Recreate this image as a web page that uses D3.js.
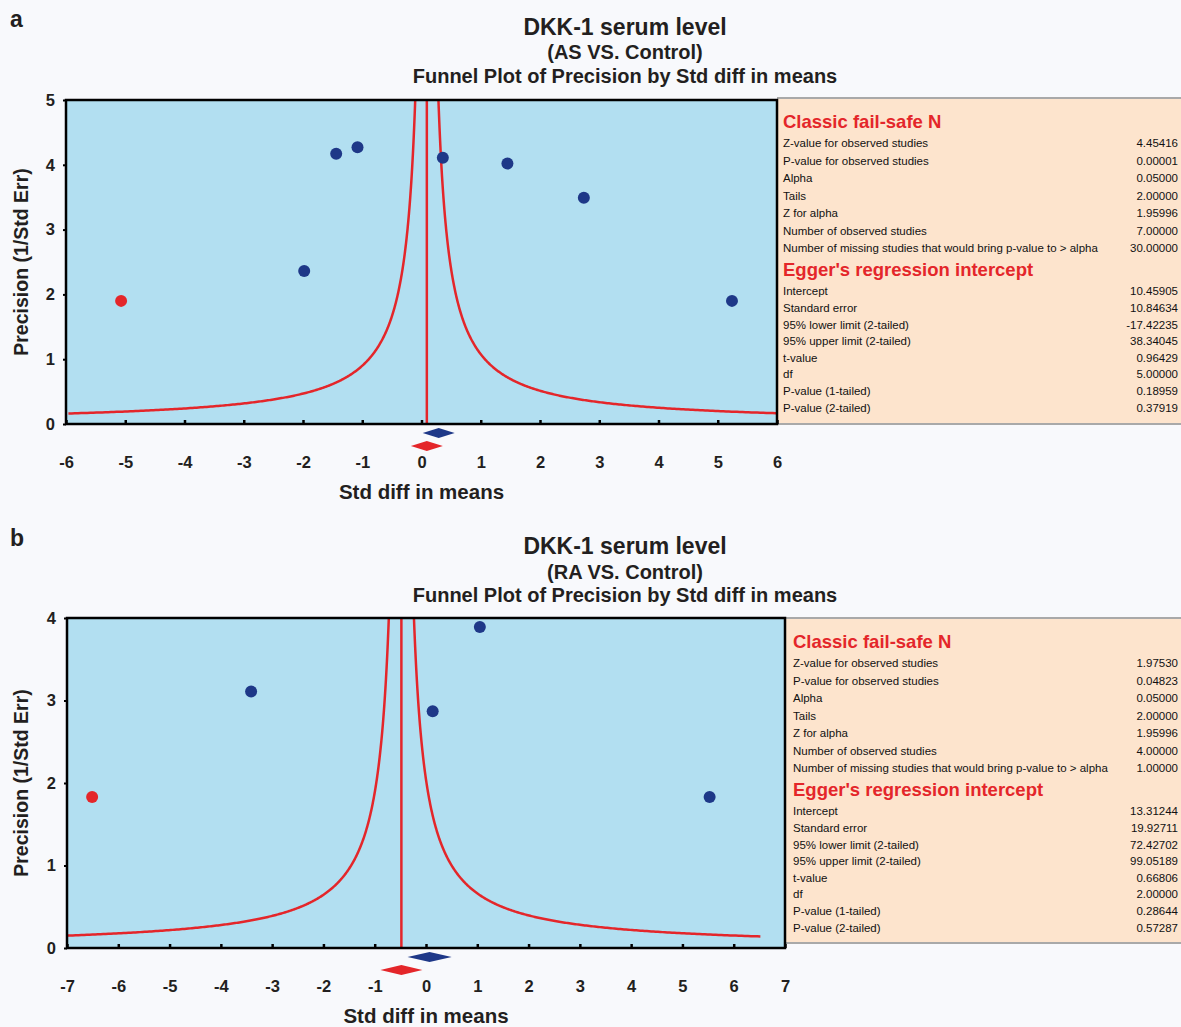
<!DOCTYPE html>
<html>
<head>
<meta charset="utf-8">
<script src="https://cdn.jsdelivr.net/npm/d3@7"></script>
<style>
  html, body { margin: 0; padding: 0; background: #f8f9fc; }
  svg { display: block; font-family: "Liberation Sans", Arial, sans-serif; }
</style>
</head>
<body>
<svg id="chart" width="1181" height="1027"></svg>
<script>
"use strict";

// ---- panel a : AS vs. Control ----
const a_title = ["DKK-1 serum level", "(AS VS. Control)", "Funnel Plot of Precision by Std diff in means"];
const a_xTicks = [-6, -5, -4, -3, -2, -1, 0, 1, 2, 3, 4, 5, 6];
const a_yTicks = [0, 1, 2, 3, 4, 5];
const a_studyEffect = [-1.98, -1.44, -1.08, 0.36, 1.45, 2.74, 5.24];
const a_studyPrecision = [2.36, 4.17, 4.27, 4.11, 4.02, 3.49, 1.90];
const a_imputedEffect = [-5.07];
const a_imputedPrecision = [1.90];
const a_observedSummary = [0.29, 0.27];   // [estimate, half width]
const a_imputedSummary = [0.09, 0.27];
const a_funnelMinPrecision = 0.162;
const a_failsafeValues = ["4.45416", "0.00001", "0.05000", "2.00000", "1.95996", "7.00000", "30.00000"];
const a_eggerValues = ["10.45905", "10.84634", "-17.42235", "38.34045", "0.96429", "5.00000", "0.18959", "0.37919"];

// ---- panel b : RA vs. Control ----
const b_title = ["DKK-1 serum level", "(RA VS. Control)", "Funnel Plot of Precision by Std diff in means"];
const b_xTicks = [-7, -6, -5, -4, -3, -2, -1, 0, 1, 2, 3, 4, 5, 6, 7];
const b_yTicks = [0, 1, 2, 3, 4];
const b_studyEffect = [-3.41, 0.13, 1.05, 5.53];
const b_studyPrecision = [3.11, 2.87, 3.89, 1.83];
const b_imputedEffect = [-6.51];
const b_imputedPrecision = [1.83];
const b_observedSummary = [0.07, 0.43];
const b_imputedSummary = [-0.48, 0.41];
const b_funnelMinPrecision = 0.14;
const b_failsafeValues = ["1.97530", "0.04823", "0.05000", "2.00000", "1.95996", "4.00000", "1.00000"];
const b_eggerValues = ["13.31244", "19.92711", "72.42702", "99.05189", "0.66806", "2.00000", "0.28644", "0.57287"];

// shared
const failsafeLabels = ["Z-value for observed studies", "P-value for observed studies", "Alpha", "Tails",
  "Z for alpha", "Number of observed studies", "Number of missing studies that would bring p-value to > alpha"];
const eggerLabels = ["Intercept", "Standard error", "95% lower limit (2-tailed)", "95% upper limit (2-tailed)",
  "t-value", "df", "P-value (1-tailed)", "P-value (2-tailed)"];
const funnelZ = 0.98;

const COL = {
  plot: "#b2dff1", box: "#fde4cd", red: "#e4262a", navy: "#1e3888",
  ink: "#231f20", boxLine: "#a9a9a9"
};

const svg = d3.select("#chart");

function drawPanel(cfg) {
  const g = svg.append("g");
  const x = d3.scaleLinear()
      .domain([cfg.xTicks[0], cfg.xTicks[cfg.xTicks.length - 1]])
      .range([cfg.plot.left, cfg.plot.right]);
  const y = d3.scaleLinear()
      .domain([0, cfg.yTicks[cfg.yTicks.length - 1]])
      .range([cfg.plot.bottom, cfg.plot.top]);

  // panel letter
  g.append("text").text(cfg.letter)
      .attr("x", 10).attr("y", cfg.letterY)
      .attr("font-size", 23).attr("font-weight", "bold").attr("fill", COL.ink);

  // titles
  const titleSizes = [23, 20, 20];
  cfg.title.forEach((t, i) => {
    g.append("text").text(t)
        .attr("x", 625).attr("y", cfg.titleY[i])
        .attr("text-anchor", "middle")
        .attr("font-size", titleSizes[i]).attr("font-weight", "bold")
        .attr("fill", COL.ink);
  });

  // stats box
  const bx = cfg.box;
  g.append("rect")
      .attr("x", bx.left).attr("y", bx.top)
      .attr("width", 1181 - bx.left).attr("height", bx.bottom - bx.top)
      .attr("fill", COL.box);
  [bx.top, bx.bottom].forEach(yy => {
    g.append("line")
        .attr("x1", bx.left).attr("x2", 1181).attr("y1", yy).attr("y2", yy)
        .attr("stroke", COL.boxLine).attr("stroke-width", 2);
  });
  const tx = bx.left + bx.pad;
  g.append("text").text("Classic fail-safe N")
      .attr("x", tx).attr("y", bx.top + 30)
      .attr("font-size", 18.5).attr("font-weight", "bold").attr("fill", COL.red);
  failsafeLabels.forEach((lab, i) => {
    const yy = bx.top + 49.3 + i * 17.5;
    g.append("text").text(lab).attr("x", tx).attr("y", yy)
        .attr("font-size", 11.5).attr("fill", "#111");
    g.append("text").text(cfg.failsafe[i]).attr("x", 1178).attr("y", yy)
        .attr("text-anchor", "end").attr("font-size", 11.5).attr("fill", "#111");
  });
  g.append("text").text("Egger's regression intercept")
      .attr("x", tx).attr("y", bx.top + 178)
      .attr("font-size", 18.5).attr("font-weight", "bold").attr("fill", COL.red);
  eggerLabels.forEach((lab, i) => {
    const yy = bx.top + 197.3 + i * 16.6;
    g.append("text").text(lab).attr("x", tx).attr("y", yy)
        .attr("font-size", 11.5).attr("fill", "#111");
    g.append("text").text(cfg.egger[i]).attr("x", 1178).attr("y", yy)
        .attr("text-anchor", "end").attr("font-size", 11.5).attr("fill", "#111");
  });

  // plot area
  const pw = cfg.plot.right - cfg.plot.left, ph = cfg.plot.bottom - cfg.plot.top;
  g.append("rect")
      .attr("x", cfg.plot.left).attr("y", cfg.plot.top)
      .attr("width", pw).attr("height", ph)
      .attr("fill", COL.plot);

  const clipId = "clip-" + cfg.letter;
  g.append("clipPath").attr("id", clipId).append("rect")
      .attr("x", cfg.plot.left).attr("y", cfg.plot.top)
      .attr("width", pw).attr("height", ph);
  const inner = g.append("g").attr("clip-path", "url(#" + clipId + ")");

  // funnel (pseudo confidence limits around the adjusted estimate)
  const c = cfg.imputedSummary[0];
  const yMax = y.domain()[1];
  const precGrid = d3.range(0, 401).map(i => cfg.funnelMin * Math.pow(yMax * 1.2 / cfg.funnelMin, i / 400));
  const line = d3.line().x(d => x(d[0])).y(d => y(d[1]));
  [-1, 1].forEach(side => {
    inner.append("path")
        .attr("d", line(precGrid.map(p => [c + side * funnelZ / p, p])))
        .attr("fill", "none").attr("stroke", COL.red).attr("stroke-width", 2.5);
  });
  inner.append("line")
      .attr("x1", x(c)).attr("x2", x(c))
      .attr("y1", y(0)).attr("y2", y(yMax))
      .attr("stroke", COL.red).attr("stroke-width", 2.5);

  // studies
  inner.selectAll(".study").data(d3.zip(cfg.studyEffect, cfg.studyPrecision)).enter()
      .append("circle")
      .attr("cx", d => x(d[0])).attr("cy", d => y(d[1])).attr("r", 6)
      .attr("fill", COL.navy);
  inner.selectAll(".imputed").data(d3.zip(cfg.imputedEffect, cfg.imputedPrecision)).enter()
      .append("circle")
      .attr("cx", d => x(d[0])).attr("cy", d => y(d[1])).attr("r", 6)
      .attr("fill", COL.red);

  // border
  g.append("rect")
      .attr("x", cfg.plot.left).attr("y", cfg.plot.top)
      .attr("width", pw).attr("height", ph)
      .attr("fill", "none").attr("stroke", "#000").attr("stroke-width", 2.5);

  // axes (plain hyphen for negatives, as in the original)
  const fmt = d => String(d);
  const xAxis = g.append("g")
      .attr("transform", "translate(0," + cfg.plot.bottom + ")")
      .call(d3.axisBottom(x).tickValues(cfg.xTicks).tickSize(-4).tickPadding(32).tickFormat(fmt));
  xAxis.select(".domain").remove();
  xAxis.selectAll(".tick line").attr("stroke", "#000").attr("stroke-width", 2.5);
  xAxis.selectAll("text").attr("font-size", 16.5).attr("font-weight", "bold").attr("fill", COL.ink)
      .attr("font-family", "Liberation Sans, Arial, sans-serif");

  const yAxis = g.append("g")
      .attr("transform", "translate(" + cfg.plot.left + ",0)")
      .call(d3.axisLeft(y).tickValues(cfg.yTicks).tickSize(3).tickPadding(8).tickFormat(fmt));
  yAxis.select(".domain").remove();
  yAxis.selectAll(".tick line").attr("stroke", "#000").attr("stroke-width", 2);
  yAxis.selectAll("text").attr("font-size", 16.5).attr("font-weight", "bold").attr("fill", COL.ink)
      .attr("font-family", "Liberation Sans, Arial, sans-serif");

  // summary diamonds below the axis
  const diamond = (s, yc, hh) => {
    const pts = [[x(s[0] - s[1]), yc], [x(s[0]), yc - hh], [x(s[0] + s[1]), yc], [x(s[0]), yc + hh]];
    return "M" + pts.map(p => p.join(",")).join("L") + "Z";
  };
  g.append("path").attr("d", diamond(cfg.observedSummary, cfg.plot.bottom + 9, 5)).attr("fill", COL.navy);
  g.append("path").attr("d", diamond(cfg.imputedSummary, cfg.plot.bottom + 22, 5)).attr("fill", COL.red);

  // axis titles
  g.append("text").text("Std diff in means")
      .attr("x", (cfg.plot.left + cfg.plot.right) / 2).attr("y", cfg.plot.bottom + 75)
      .attr("text-anchor", "middle")
      .attr("font-size", 20.5).attr("font-weight", "bold").attr("fill", COL.ink);
  g.append("text").text("Precision (1/Std Err)")
      .attr("transform", "translate(28," + ((cfg.plot.top + cfg.plot.bottom) / 2) + ") rotate(-90)")
      .attr("text-anchor", "middle")
      .attr("font-size", 19.5).attr("font-weight", "bold").attr("fill", COL.ink);
}

drawPanel({
  letter: "a", letterY: 27,
  title: a_title, titleY: [35, 59, 83],
  plot: {left: 66, right: 777, top: 100, bottom: 424},
  box: {left: 777, top: 98, bottom: 424, pad: 6},
  xTicks: a_xTicks, yTicks: a_yTicks,
  studyEffect: a_studyEffect, studyPrecision: a_studyPrecision,
  imputedEffect: a_imputedEffect, imputedPrecision: a_imputedPrecision,
  observedSummary: a_observedSummary, imputedSummary: a_imputedSummary,
  funnelMin: a_funnelMinPrecision,
  failsafe: a_failsafeValues, egger: a_eggerValues
});

drawPanel({
  letter: "b", letterY: 546,
  title: b_title, titleY: [554, 579, 602],
  plot: {left: 67, right: 785, top: 618, bottom: 948},
  box: {left: 785, top: 618, bottom: 943, pad: 8},
  xTicks: b_xTicks, yTicks: b_yTicks,
  studyEffect: b_studyEffect, studyPrecision: b_studyPrecision,
  imputedEffect: b_imputedEffect, imputedPrecision: b_imputedPrecision,
  observedSummary: b_observedSummary, imputedSummary: b_imputedSummary,
  funnelMin: b_funnelMinPrecision,
  failsafe: b_failsafeValues, egger: b_eggerValues
});
</script>
</body>
</html>
